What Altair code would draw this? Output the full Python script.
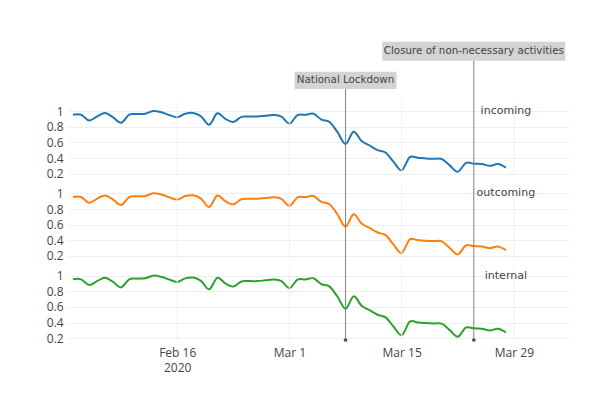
import altair as alt
import pandas as pd

# ---------------- data ----------------
dates = pd.date_range("2020-02-03", "2020-03-28", freq="D").strftime("%Y-%m-%d").tolist()

incoming = [0.953, 0.953, 0.88, 0.93, 0.974, 0.92, 0.85, 0.953, 0.962, 0.966,
            1.0, 0.985, 0.95, 0.92, 0.965, 0.975, 0.93, 0.825, 0.972, 0.90,
            0.86, 0.925, 0.93, 0.93, 0.94, 0.95, 0.93, 0.84, 0.948, 0.952,
            0.966, 0.89, 0.86, 0.73, 0.58, 0.736, 0.617, 0.56, 0.50, 0.468,
            0.35, 0.243, 0.41, 0.404, 0.395, 0.39, 0.388, 0.306, 0.225, 0.336,
            0.328, 0.323, 0.30, 0.323, 0.277]
outcoming = [0.953, 0.953, 0.88, 0.93, 0.974, 0.92, 0.85, 0.953, 0.962, 0.966,
             1.0, 0.985, 0.95, 0.92, 0.965, 0.975, 0.93, 0.825, 0.972, 0.90,
             0.86, 0.925, 0.93, 0.93, 0.94, 0.95, 0.93, 0.84, 0.948, 0.952,
             0.966, 0.89, 0.86, 0.73, 0.575, 0.733, 0.615, 0.558, 0.50, 0.466,
             0.345, 0.238, 0.41, 0.403, 0.394, 0.39, 0.387, 0.303, 0.22, 0.334,
             0.327, 0.322, 0.30, 0.321, 0.274]
internal = [0.953, 0.953, 0.88, 0.93, 0.974, 0.92, 0.85, 0.953, 0.962, 0.966,
            1.0, 0.985, 0.95, 0.92, 0.965, 0.975, 0.93, 0.825, 0.972, 0.90,
            0.86, 0.925, 0.93, 0.93, 0.94, 0.95, 0.93, 0.84, 0.948, 0.952,
            0.966, 0.89, 0.86, 0.73, 0.577, 0.735, 0.616, 0.559, 0.50, 0.467,
            0.347, 0.24, 0.41, 0.403, 0.395, 0.39, 0.387, 0.304, 0.22, 0.335,
            0.327, 0.322, 0.30, 0.322, 0.276]

series_names = ["incoming", "outcoming", "internal"]
series_colors = ["#1f77b4", "#ff7f0e", "#2ca02c"]

event_dates = ["2020-03-08", "2020-03-24"]
event_labels = ["National Lockdown", "Closure of non-necessary activities"]

x_tick_dates = ["2020-02-16", "2020-03-01", "2020-03-15", "2020-03-29"]
y_tick_values = [0.2, 0.4, 0.6, 0.8, 1.0]
label_date = "2020-03-28"

# ---------------- layout constants ----------------
STEP = 1.051          # vertical offset between stacked panels (value units)
Y_MIN = 0.178         # bottom of each panel's range
PANEL_TOP = 1.12      # top of each panel's range
PX_PER_UNIT = 78.3
HEIGHT = 327
WIDTH = 501
Y_MAX = Y_MIN + HEIGHT / PX_PER_UNIT
box_ranges = [(3.384, 3.605), (3.745, 3.988)]
box_widths = [102, 183]

offsets = {"incoming": 2 * STEP, "outcoming": STEP, "internal": 0.0}
values = {"incoming": incoming, "outcoming": outcoming, "internal": internal}


def ms(d):
    return int(pd.Timestamp(d, tz="UTC").timestamp() * 1000)


x_domain = [ms("2020-02-03"), ms("2020-04-04T06:00:00")]

rows = []
for s in series_names:
    for d, v in zip(dates, values[s]):
        rows.append({"date": d, "series": s, "value": v, "ys": v + offsets[s]})
df = pd.DataFrame(rows)

grid_rows = []
for s in series_names:
    for d in x_tick_dates:
        grid_rows.append({"date": d, "y0": Y_MIN + offsets[s], "y1": PANEL_TOP + offsets[s]})
grid_df = pd.DataFrame(grid_rows)

ev_df = pd.DataFrame({
    "date": event_dates,
    "label": event_labels,
    "ybot": [Y_MIN, Y_MIN],
    "ytop": [r[0] for r in box_ranges],
    "b0": [r[0] for r in box_ranges],
    "b1": [r[1] for r in box_ranges],
    "yc": [(r[0] + r[1]) / 2 for r in box_ranges],
    "w": box_widths,
})

lab_df = pd.DataFrame({
    "date": [label_date] * 3,
    "label": series_names,
    "y": [1.0 + offsets[s] for s in series_names],
})

y_axis_values = sorted(round(v + offsets[s], 4) for s in series_names for v in y_tick_values)

X_SCALE = alt.Scale(type="utc", domain=x_domain, nice=False)
Y_SCALE = alt.Scale(domain=[Y_MIN, Y_MAX], nice=False, zero=False)

x_axis = alt.Axis(
    values=[ms(d) for d in x_tick_dates], tickCount=len(x_tick_dates),
    labelExpr="[utcFormat(datum.value, '%b %-d'), utcFormat(datum.value, '%m-%d') == '02-16' ? '2020' : '']",
    grid=False, domain=False, ticks=False, labelPadding=7,
    labelFont="Open Sans", labelFontSize=12, labelColor="#444",
    labelLineHeight=15, labelOverlap=False, title=None,
)
y_axis = alt.Axis(
    values=y_axis_values, tickCount=len(y_axis_values),
    labelExpr="format(datum.value - (datum.value > 2.2 ? %f : datum.value > 1.15 ? %f : 0), '.1~f')" % (2 * STEP, STEP),
    grid=True, gridColor="#eeeeee", gridWidth=1, domain=False, ticks=False,
    labelPadding=5, labelFont="Open Sans", labelFontSize=12, labelColor="#444",
    labelOverlap=False, labelBaseline="middle",
    minExtent=55, maxExtent=55, title=None,
)


def X(field, axis=False):
    if axis:
        return alt.X(field, scale=X_SCALE, axis=x_axis)
    return alt.X(field, scale=X_SCALE, title=None)


def Y(field, axis=False):
    if axis:
        return alt.Y(field, scale=Y_SCALE, axis=y_axis)
    return alt.Y(field, scale=Y_SCALE, title=None)


lines = alt.Chart(df).mark_line(interpolate="cardinal", strokeWidth=2).encode(
    x=X("date:T", True),
    y=Y("ys:Q", True),
    color=alt.Color("series:N", scale=alt.Scale(domain=series_names, range=series_colors), legend=None),
)

vgrid = alt.Chart(grid_df).mark_rule(color="#eeeeee", strokeWidth=1).encode(
    x=X("date:T"), y=Y("y0:Q"), y2="y1:Q",
)

ev_rules = alt.Chart(ev_df).mark_rule(color="#808080", strokeWidth=1).encode(
    x=X("date:T"), y=Y("ybot:Q"), y2="ytop:Q",
)

ev_dots = alt.Chart(ev_df).mark_point(filled=True, size=14, color="#555555", opacity=1).encode(
    x=X("date:T"), y=Y("ybot:Q"),
)

ev_boxes = alt.Chart(ev_df).mark_bar(color="#d3d3d3").encode(
    x=X("date:T"), y=Y("b0:Q"), y2="b1:Q",
    size=alt.Size("w:Q", scale=None, legend=None),
)

ev_text = alt.Chart(ev_df).mark_text(
    font="DejaVu Sans", fontSize=10.3, color="#444", align="center", baseline="middle"
).encode(
    x=X("date:T"), y=Y("yc:Q"), text="label:N",
)

series_text = alt.Chart(lab_df).mark_text(
    font="DejaVu Sans", fontSize=11, color="#444", align="center", baseline="middle"
).encode(
    x=X("date:T"), y=Y("y:Q"), text="label:N",
)

chart = alt.layer(lines, vgrid, ev_rules, ev_dots, ev_boxes, ev_text, series_text).properties(
    width=WIDTH, height=HEIGHT,
    padding={"left": 5, "top": 5, "right": 5, "bottom": 5},
    background="white",
).configure_view(strokeWidth=0)

chart.save("out.html", embed_options={"renderer": "svg", "actions": False})
